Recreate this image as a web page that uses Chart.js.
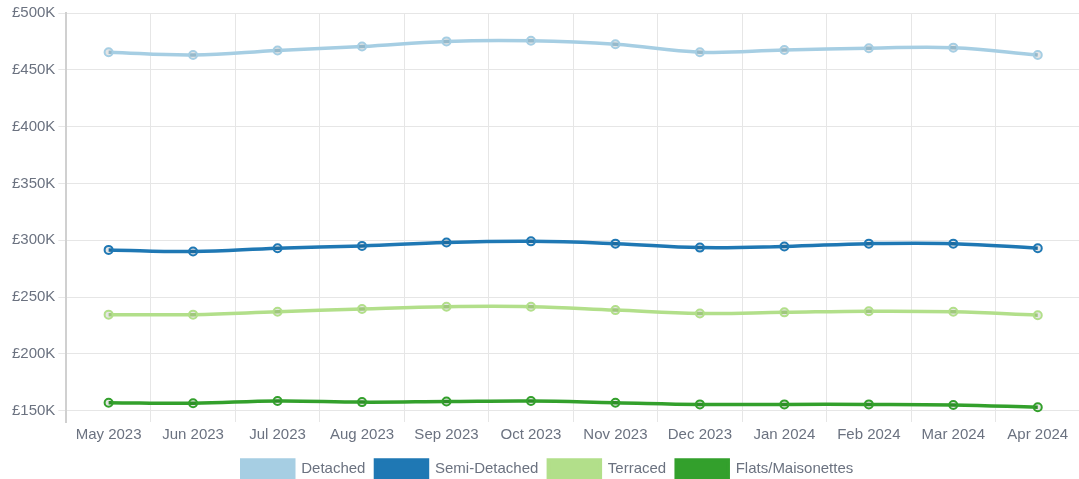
<!DOCTYPE html>
<html>
<head>
<meta charset="utf-8">
<script src="https://cdn.jsdelivr.net/npm/chart.js@4.4.1/dist/chart.umd.min.js"></script>
<style>
  html, body { margin: 0; padding: 0; background: #fff; overflow: hidden; }
  #wrap { width: 1086px; height: 479px; }
</style>
</head>
<body>
<div id="wrap"><canvas id="priceChart"></canvas></div>
<script>
// Average prices by property type (in £K)
const months = ['May 2023', 'Jun 2023', 'Jul 2023', 'Aug 2023', 'Sep 2023', 'Oct 2023',
                'Nov 2023', 'Dec 2023', 'Jan 2024', 'Feb 2024', 'Mar 2024', 'Apr 2024'];
const detached     = [465.5, 463, 467, 470.5, 475, 475.5, 472.5, 465.5, 467.5, 469, 469.5, 463];
const semiDetached = [291.5, 290, 293, 295, 298, 299, 297, 293.5, 294.5, 297, 297, 293];
const terraced     = [234.5, 234.5, 237, 239.5, 241.5, 241.5, 238.5, 235.5, 236.5, 237.5, 237, 234];
const flats        = [157, 156.5, 158.5, 157.5, 158, 158.5, 157, 155.5, 155.5, 155.5, 155, 153];
const yTicks       = [150, 200, 250, 300, 350, 400, 450, 500];

const seriesNames  = ['Detached', 'Semi-Detached', 'Terraced', 'Flats/Maisonettes'];
const seriesColors = ['#a6cee3', '#1f78b4', '#b2df8a', '#33a02c'];

const toPounds = arr => arr.map(v => v * 1000);

const datasets = [detached, semiDetached, terraced, flats].map((vals, i) => ({
  label: seriesNames[i],
  data: toPounds(vals),
  borderColor: seriesColors[i],
  backgroundColor: seriesColors[i],
  pointBackgroundColor: 'rgba(0,0,0,0.1)',
  pointBorderColor: seriesColors[i],
  pointRadius: 4,
  pointBorderWidth: 2,
  borderWidth: 3.5,
  tension: 0.4
}));

Chart.defaults.font.family = '"Liberation Sans", Arial, sans-serif';
Chart.defaults.font.size = 15;
Chart.defaults.color = '#6b7280';

new Chart(document.getElementById('priceChart'), {
  type: 'line',
  data: { labels: months, datasets: datasets },
  options: {
    responsive: true,
    maintainAspectRatio: false,
    animation: false,
    layout: { padding: { top: 13, left: 9, right: 0, bottom: -9 } },
    plugins: {
      legend: {
        position: 'bottom',
        labels: { boxWidth: 52, boxHeight: 18, padding: 10 }
      },
      tooltip: { enabled: false }
    },
    scales: {
      x: {
        offset: true,
        grid: { offset: true, color: '#e6e6e6', drawTicks: false },
        border: { display: false },
        ticks: { padding: 4 },
        afterFit: axis => { axis.height += 2; }
      },
      y: {
        min: 140000,
        max: 500000,
        grid: { color: '#e6e6e6' },
        border: { color: '#d0d0d0', width: 2 },
        afterBuildTicks: axis => {
          axis.ticks = toPounds(yTicks).map(v => ({ value: v }));
        },
        ticks: {
          callback: v => '£' + (v / 1000) + 'K'
        }
      }
    }
  }
});
</script>
</body>
</html>
